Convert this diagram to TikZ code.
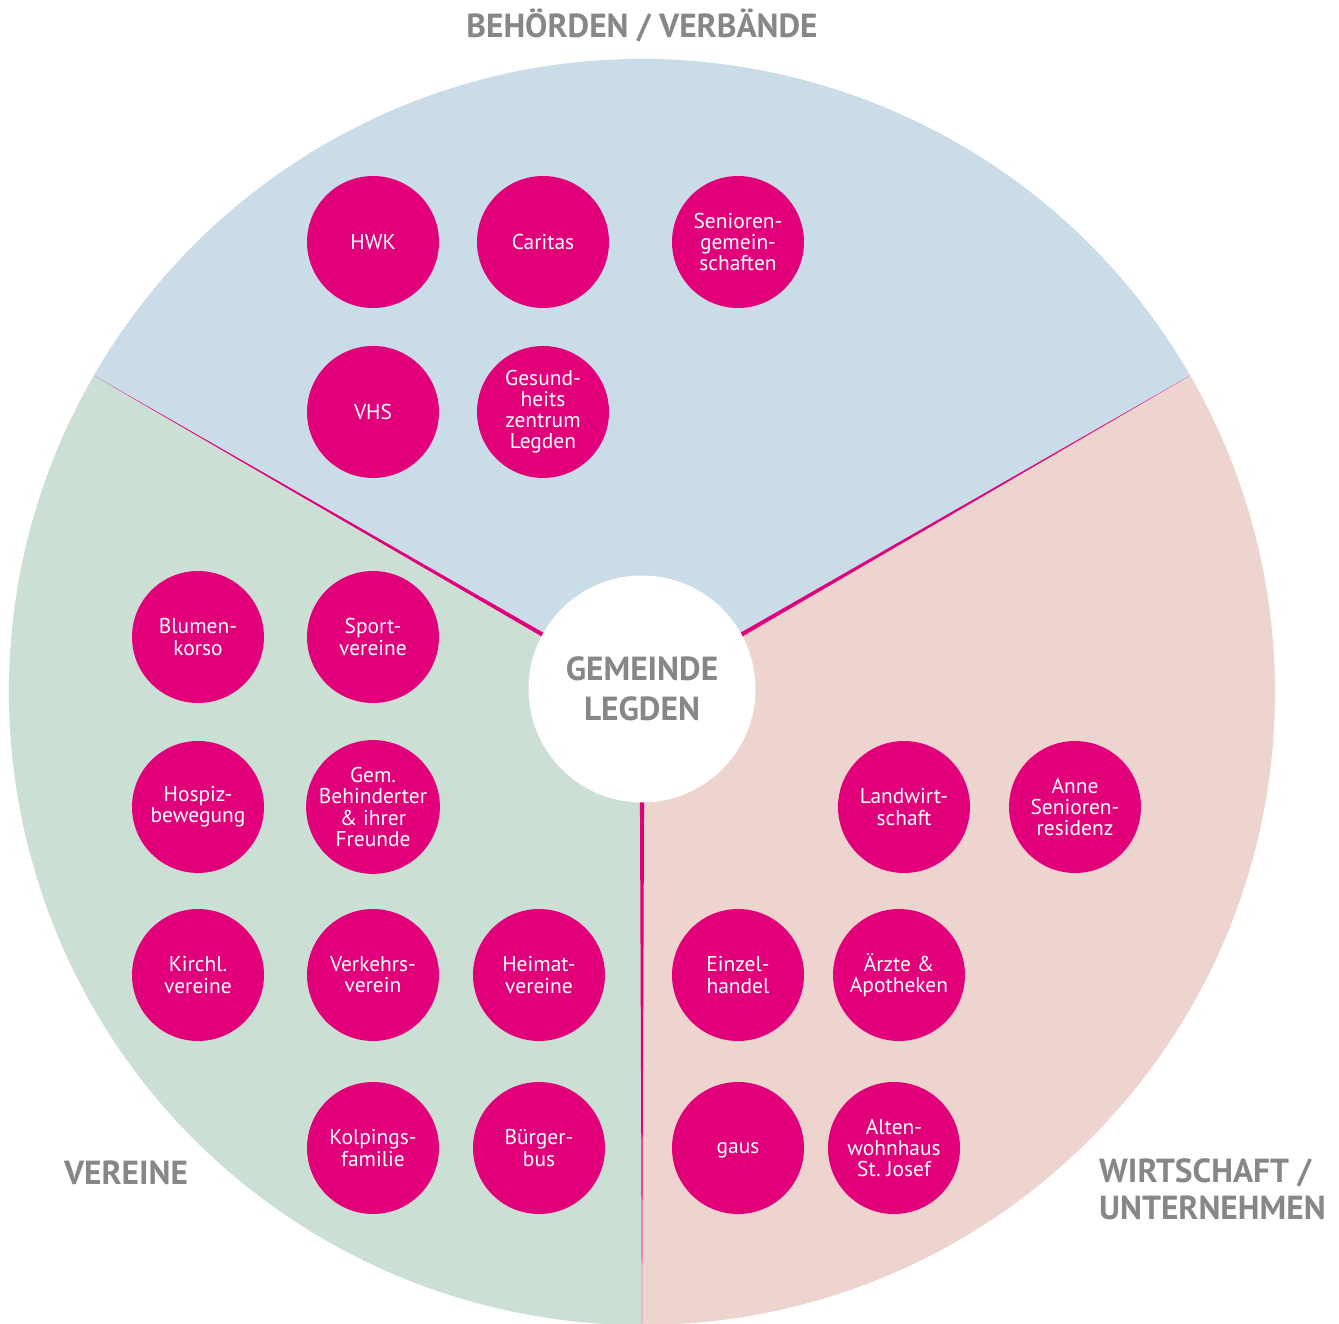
\documentclass[tikz,border=0pt]{standalone}
\usepackage{fontspec}
\setmainfont{PT Sans}
\usepackage{xcolor}
\definecolor{legdenmag}{HTML}{E2007A}
\definecolor{sektorblau}{HTML}{CADCE8}
\definecolor{sektorgruen}{HTML}{CCDFD5}
\definecolor{sektorrosa}{HTML}{EED4CF}
\definecolor{titelgrau}{HTML}{878787}

\begin{document}
\begin{tikzpicture}[x=0.02cm, y=0.02cm, node distance=3.4cm,
    partner/.style={circle, fill=legdenmag, text=white, minimum size=2.64cm, inner sep=0pt, align=center, font=\fontsize{12.2}{12}\selectfont},
    bereich/.style={text=titelgrau, align=center, font=\fontsize{19}{21}\selectfont\bfseries},
    trenner/.style={fill=legdenmag}]
    \useasboundingbox (0,0) rectangle (1339,-1324);
    \clip (0,0) rectangle (1339,-1324);

    % the three sectors
    \coordinate (mitte) at (642,-692);
    \fill[sektorblau] (mitte) -- ++(30:633) arc[start angle=30, end angle=150, radius=633] -- cycle;
    \fill[sektorgruen] (mitte) -- ++(150:633) arc[start angle=150, end angle=270, radius=633] -- cycle;
    \fill[sektorrosa] (mitte) -- ++(270:633) arc[start angle=270, end angle=390, radius=633] -- cycle;

    % tapering dividers
    \begin{scope}[shift={(mitte)}]
        \foreach \w in {30,150,270}
            \fill[trenner] (\w:633) -- (\w+90:2.5) -- (\w-90:2.5) -- cycle;
    \end{scope}

    \node[circle, fill=white, minimum size=4.54cm, inner sep=0pt, align=center, text=titelgrau, font=\fontsize{19}{22.5}\selectfont\bfseries] (gemeinde) at (642,-689) {GEMEINDE\\LEGDEN};

    % Behoerden / Verbaende
    \node[partner] (hwk) at (373,-242) {HWK};
    \node[partner] (caritas) at (543,-242) {Caritas};
    \node[partner] (seniorengem) at (738,-242) {Senioren-\\gemein-\\schaften};
    \node[partner, below of=hwk] (vhs) {VHS};
    \node[partner, below of=caritas] (gesundheit) {Gesund-\\heits\\zentrum\\Legden};

    % Vereine
    \node[partner] (blumen) at (198,-637) {Blumen-\\korso};
    \node[partner] (sport) at (373,-637) {Sport-\\vereine};
    \node[partner, below of=blumen] (hospiz) {Hospiz-\\bewegung};
    \node[partner, below of=sport] (behinderte) {Gem.\\Behinderter\\\&~ihrer\\Freunde};
    \node[partner] (kirchl) at (198,-975) {Kirchl.\\vereine};
    \node[partner] (verkehr) at (373,-975) {Verkehrs-\\verein};
    \node[partner] (heimat) at (539,-975) {Heimat-\\vereine};
    \node[partner] (kolping) at (373,-1148) {Kolpings-\\familie};
    \node[partner] (buerger) at (539,-1148) {Bürger-\\bus};

    % Wirtschaft / Unternehmen
    \node[partner] (landwirt) at (904,-807) {Landwirt-\\schaft};
    \node[partner] (anne) at (1075,-807) {Anne\\Senioren-\\residenz};
    \node[partner] (einzel) at (738,-975) {Einzel-\\handel};
    \node[partner] (aerzte) at (899,-975) {Ärzte \&\\Apotheken};
    \node[partner] (gaus) at (738,-1148) {\vphantom{A}gaus};
    \node[partner] (altenwohn) at (894,-1148) {Alten-\\wohnhaus\\St.~Josef};

    \node[bereich] (titel-behoerden) at (642,-26) {BEHÖRDEN / VERBÄNDE};
    \node[bereich] (titel-vereine) at (126,-1173) {VEREINE};
    \node[bereich, align=left, anchor=west] (titel-wirtschaft) at (1093,-1189) {WIRTSCHAFT /\\UNTERNEHMEN};
\end{tikzpicture}
\end{document}
